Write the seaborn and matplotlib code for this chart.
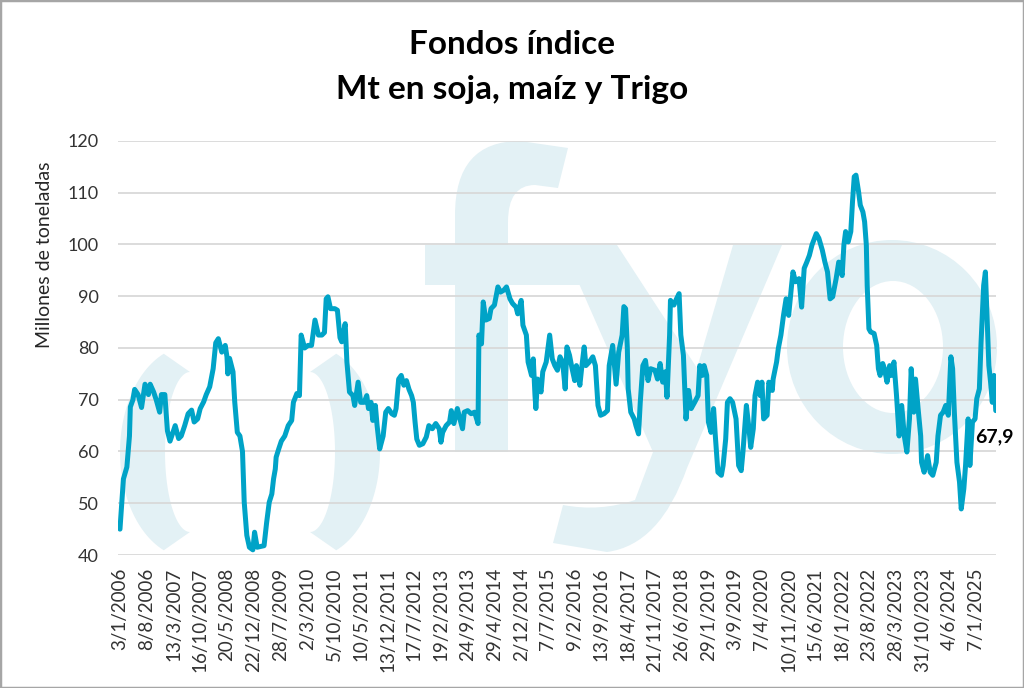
import numpy as np
import pandas as pd
import matplotlib
matplotlib.use("Agg")
import matplotlib.pyplot as plt
import seaborn as sns
from matplotlib.path import Path
from matplotlib.patches import PathPatch, Rectangle, Ellipse, Polygon

# semanas desde el 3/1/2006 y Mt en manos de fondos indice (soja + maiz + trigo)
semanas = [
    0, 2, 4, 8, 11, 12, 15, 17, 21, 25, 29, 33, 35, 39, 42, 46, 48, 52, 55, 58,
    62, 64, 68, 71, 75, 79, 83, 86, 90, 93, 97, 100, 104, 108, 111, 114, 118, 122, 124, 125,
    127, 131, 133, 136, 139, 142, 144, 147, 150, 154, 156, 159,
    167, 170, 173, 176, 178, 180, 181, 184, 187, 191, 195, 199, 201, 205, 208, 210, 214, 218,
    222, 226, 230, 234, 237, 239, 241, 244, 249, 252, 255, 257, 261, 263, 266, 270, 272, 276,
    279, 283, 286, 288, 291, 293, 296, 298, 301, 305, 308, 311, 315, 318, 320, 323, 326, 329, 332,
    335, 338, 340, 342, 344, 347, 351, 355, 358, 362, 366, 370, 372, 374, 378, 382, 384, 387,
    391, 394, 397, 399, 403, 407, 411, 415, 416, 419, 421, 424, 428, 430, 434, 438, 441, 445,
    448, 452, 455, 459, 461, 465, 467, 471, 473, 477, 479, 481, 482, 484, 488, 490, 494, 498, 501,
    504, 507, 510, 513, 516, 518, 521, 524, 527, 529, 533, 535, 538, 540, 544, 548, 551, 554,
    557, 561, 565, 567, 571, 575, 578, 582, 584, 586, 588, 589, 592, 596, 598, 601, 603, 606,
    609, 612, 615, 620, 623, 626, 629, 632, 634, 637, 638, 642, 645, 648, 650, 653, 656, 659, 662, 666,
    670, 672, 675, 677, 680, 682, 685, 688, 690, 693, 697, 699, 702, 704, 707, 710, 714, 717,
    720, 722, 726, 729, 731, 734, 736, 739, 742, 744, 746, 750, 752, 756, 757, 761, 763, 766,
    769, 772, 775, 778, 780, 783, 787, 790, 793, 796, 799, 802, 807, 810, 814, 817, 820, 823,
    826, 830, 833, 837,
    839, 841, 844, 847, 849, 851, 853, 856, 858, 861, 863, 865, 866, 868, 870, 874, 877, 879,
    881, 884, 886, 889, 892, 894, 897, 900, 903, 906, 909, 912, 915, 917, 920, 922, 925, 928,
    929, 932, 936, 939, 942, 946, 948, 951, 954, 957, 960, 963, 965, 967, 970, 973, 975, 978,
    980, 983, 985, 988, 991, 993, 996, 998, 1001, 1003, 1005, 1007, 1009, 1011, 1013, 1015,
]
fondos = [
    45, 50, 54.7, 57, 63, 68.6, 70, 72, 71, 68.5, 73, 71, 73, 71.5, 70, 67.6, 71, 71, 64, 62,
    64, 65, 62.5, 63, 65, 67.3, 68, 65.7, 66.3, 68.3, 69.6, 71, 72.5, 76, 81, 81.8, 79.2, 80.5, 78.3, 75,
    78, 75.4, 69.6, 63.7, 63, 60, 50.2, 43.8, 41.5, 41, 44.4, 41.5,
    41.8, 46.3, 50.2, 51.8, 54.7, 56.6, 58.9, 60.5, 62, 63, 65, 66, 69.5, 71.2, 70.8, 82.5, 80, 80.5,
    80.5, 85.4, 82.5, 82.5, 83, 89.5, 89.9, 87.6, 87.6, 87.3, 82, 81.2, 84.7, 77.3, 71.5, 70.8, 68.9, 73.4,
    69.5, 69.5, 70.8, 68.3, 69.5, 66, 68.9, 65, 60.5, 63, 67.6, 68.3, 67.3, 67, 68.3, 74, 74.7, 72.8, 73.7,
    72, 70.8, 69.5, 65.7, 62.4, 61.2, 61.5, 62.8, 65, 64.4, 65.4, 64.4, 61.8, 63.7, 65, 65.7, 67.9, 65.4,
    68.3, 66.3, 64.4, 67.6, 67.9, 67.3, 67.6, 65.4, 82.5, 80.8, 88.9, 85.4, 85.7, 87.6, 88.3, 91.8, 90.8, 91.2,
    91.8, 89.5, 88.6, 87.9, 86.6, 89.2, 84.4, 82.5, 77.3, 74.7, 77.9, 70.8, 68.3, 74, 71.5, 75.4, 77.3, 82.5, 77.9,
    76.6, 75.7, 78.3, 77.3, 72.1, 80.2, 78.6, 76, 73.7, 76.6, 72.8, 76, 80.2, 76.6, 77.3, 78.3, 76.6, 68.9,
    67, 67.3, 67.9, 76.6, 80.5, 73, 79.2, 82.5, 88, 87.6, 80, 72.1, 67.6, 66.3, 65, 63.4, 69.5, 76.6,
    77.6, 73.7, 76, 75.7, 74, 77, 73.4, 75.4, 70.5, 82.5, 89.2, 88.3, 89.5, 90.5, 82.5, 78.6, 66.3, 71.8, 68.3, 69.5,
    70.8, 76.6, 74.7, 76.6, 74.7, 65.7, 63.7, 68.3, 63, 56, 55.4, 57.3, 62.4, 69.5, 70.2, 69.5, 66.3, 57.3,
    56.3, 59.9, 68.9, 64.4, 60.8, 64.4, 70.8, 73.4, 70.8, 73.4, 66.3, 67, 73.4, 71.8, 74, 77.3, 79.9, 82.5,
    86.3, 89.5, 86.3, 91.5, 94.7, 92.8, 93.4, 87.9, 95.4, 96.6, 97.9, 99.9, 102.1, 101.2, 98.9, 96.6, 94.7, 89.5,
    89.9, 93.4, 96.6, 94,
    99.9, 102.5, 100.5, 102.5, 108.3, 113.1, 113.4, 110.2, 107.6, 106.3, 104.4, 99.9, 92.1, 83.7, 83.1, 82.8, 80.5, 76,
    74.7, 77, 76, 73.4, 76.6, 74.7, 77.3, 70.8, 63, 68.9, 63, 59.9, 66.3, 76, 67.6, 74, 68.3, 63,
    57.9, 56, 59.2, 56, 55.4, 57.9, 63, 67, 67.6, 68.9, 67, 78.3, 76, 67.6, 57.9, 54.1, 48.9, 52.8,
    57.3, 66.3, 57.3, 65.7, 66.3, 70.2, 72.1, 81.2, 92.1, 94.7, 85.7, 76.6, 73.4, 69.5, 74.7, 67.9,
]
fecha_ini = "2006-01-03"

etiquetas_x = [
    "3/1/2006", "8/8/2006", "13/3/2007", "16/10/2007", "20/5/2008", "22/12/2008",
    "28/7/2009", "2/3/2010", "5/10/2010", "10/5/2011", "13/12/2011", "17/7/2012",
    "19/2/2013", "24/9/2013", "29/4/2014", "2/12/2014", "7/7/2015", "9/2/2016",
    "13/9/2016", "18/4/2017", "21/11/2017", "26/6/2018", "29/1/2019", "3/9/2019",
    "7/4/2020", "10/11/2020", "15/6/2021", "18/1/2022", "23/8/2022", "28/3/2023",
    "31/10/2023", "4/6/2024", "7/1/2025",
]
ticks_y = [40, 50, 60, 70, 80, 90, 100, 110, 120]
ultimo_label = "67,9"

azul = "#00a3c7"
marca = "#e3f1f5"

sns.set_theme(style="white")
plt.rcParams["font.family"] = ["Lato", "DejaVu Sans"]

fechas = pd.Timestamp(fecha_ini) + pd.to_timedelta(np.array(semanas) * 7, unit="D")
df = pd.DataFrame({"fecha": fechas, "mt": fondos})

fig = plt.figure(figsize=(10.24, 6.88), dpi=100)

# marca de agua "( )fyo" detras del grafico, en pixeles
bg = fig.add_axes([0, 0, 1, 1], zorder=0)
bg.set_xlim(0, 1024)
bg.set_ylim(688, 0)
bg.axis("off")


def arco(cx, lado):
    t1 = np.radians(np.linspace(22, 158, 60))
    t2 = np.radians(np.linspace(180, 0, 60))
    ext = np.c_[cx + lado * 70 * np.sin(t1), 452 - 106 * np.cos(t1)]
    inn = np.c_[cx + lado * 25 * np.sin(t2), 452 - 80 * np.cos(t2)]
    return Polygon(np.vstack([ext, inn]), closed=True, fc=marca, ec="none")


bg.add_patch(arco(190, -1))
bg.add_patch(arco(310, 1))

f_verts = [(455, 452), (455, 215), (455, 141), (520, 141), (568, 148), (558, 188),
           (535, 185), (508, 185), (508, 222), (508, 452), (455, 452)]
f_codes = [Path.MOVETO, Path.LINETO, Path.CURVE3, Path.CURVE3, Path.LINETO, Path.LINETO,
           Path.LINETO, Path.CURVE3, Path.CURVE3, Path.LINETO, Path.CLOSEPOLY]
bg.add_patch(PathPatch(Path(f_verts, f_codes), fc=marca, ec="none"))
bg.add_patch(Rectangle((425, 245), 155, 40, fc=marca, ec="none"))

y_verts = [(562, 245), (617, 245), (697, 368), (733, 245), (782, 245), (687, 468),
           (660, 545), (607, 552), (553, 543), (563, 505), (600, 512), (635, 500),
           (653, 452), (562, 245)]
y_codes = [Path.MOVETO, Path.LINETO, Path.LINETO, Path.LINETO, Path.LINETO, Path.LINETO,
           Path.CURVE3, Path.CURVE3, Path.LINETO, Path.LINETO, Path.CURVE3, Path.CURVE3,
           Path.LINETO, Path.CLOSEPOLY]
bg.add_patch(PathPatch(Path(y_verts, y_codes), fc=marca, ec="none"))

bg.add_patch(Ellipse((892, 347), 210, 214, fc=marca, ec="none"))
bg.add_patch(Ellipse((893, 347), 100, 132, fc="white", ec="none"))

# grafico principal
ax = fig.add_axes([118 / 1024, 1 - 555 / 688, (996 - 118) / 1024, (555 - 141) / 688], zorder=1)
ax.patch.set_alpha(0)

sns.lineplot(data=df, x="fecha", y="mt", color=azul, linewidth=3.6, ax=ax)

ax.set_ylim(40, 120)
ax.set_yticks(ticks_y)
ax.set_xlim(fechas[0] - pd.Timedelta(days=16), fechas[-1] + pd.Timedelta(days=2))
ax.set_xticks(pd.to_datetime(etiquetas_x, dayfirst=True))
ax.set_xticklabels(etiquetas_x, rotation=90)
ax.grid(axis="y", color="#d9d9d9", linewidth=1.3)
ax.grid(axis="x", visible=False)
for s in ax.spines.values():
    s.set_visible(False)
ax.tick_params(axis="y", length=0, pad=14, labelsize=13, labelcolor="#333333")
ax.tick_params(axis="x", length=0, pad=9, labelsize=13.5, labelcolor="#333333")
ax.set_xlabel("")
ax.set_ylabel("")

ax.annotate(ultimo_label, xy=(fechas[-1], fondos[-1]), xytext=(-1, -19),
            textcoords="offset points", ha="center", va="center",
            fontsize=14, fontweight="bold", color="black")

fig.text(45 / 1024, 1 - 255 / 688, "Millones de toneladas", rotation=90,
         ha="center", va="center", fontsize=14, color="#262626")
fig.text(0.5, 1 - 45 / 688, "Fondos índice", ha="center", va="center",
         fontsize=24, fontweight="bold", color="black")
fig.text(0.5, 1 - 90 / 688, "Mt en soja, maíz y Trigo", ha="center", va="center",
         fontsize=24, fontweight="bold", color="black")

fig.patches.append(Rectangle((0, 0), 1, 1, transform=fig.transFigure, fill=False,
                             ec="#a6a6a6", lw=2.5))

fig.savefig("out.png", dpi=100)
